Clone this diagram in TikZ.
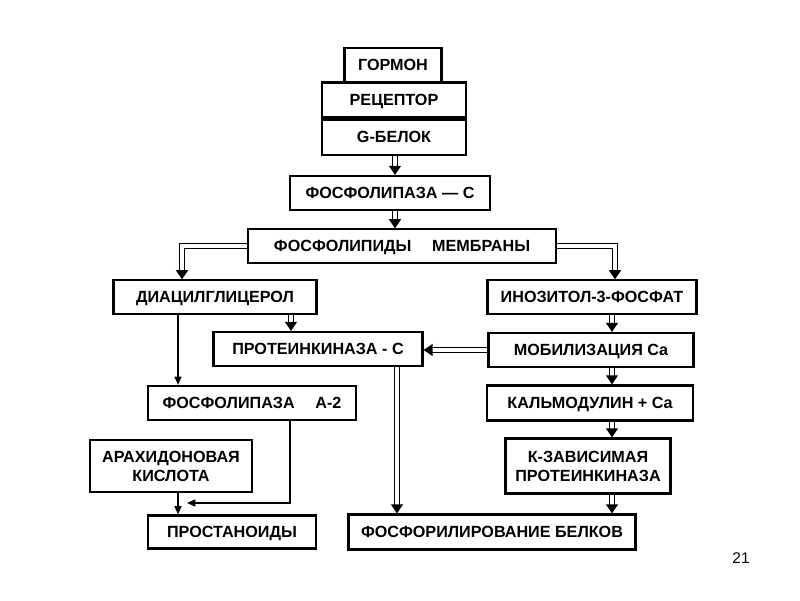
\documentclass[tikz,border=0pt]{standalone}
\usepackage{fontspec}
\setmainfont{Liberation Sans}
\usetikzlibrary{arrows.meta,positioning}

\begin{document}
\begin{tikzpicture}[font=\bfseries\fontsize{11.5}{13.5}\selectfont,
  blok/.style={draw, line width=1.5pt, inner sep=2pt, align=center, minimum height=.85cm},
  riga/.style={blok, text height=8.2pt, text depth=0pt},
  dbl/.style={line width=1pt, double, double distance=2.2pt, -{Triangle[length=6.5pt,width=8.5pt]}},
  sng/.style={line width=1.1pt, -{Triangle[length=6pt,width=5pt]}}]
\useasboundingbox (0,0) rectangle (20,15);

\begin{scope}
% colonne delle frecce
\coordinate (cx) at (9.875,0);
\coordinate (rx) at (15.3,0);
\coordinate (mx) at (9.925,0);
\coordinate (lx) at (4.45,0);

\node[riga, minimum width=2.425cm] (gormon) at (9.825,13.375) {ГОРМОН};
\node[riga, minimum width=3.6cm, minimum height=.875cm] (recept) at (9.85,12.5) {РЕЦЕПТОР};
\node[riga, minimum width=3.6cm, minimum height=.875cm, below=0pt of recept] (gbelok) {G-БЕЛОК};
\node[riga, minimum width=5cm] (fosfc) at (9.75,10.175) {ФОСФОЛИПАЗА — С};
\node[riga, minimum width=7.7cm, minimum height=.83cm] (membr) at (10.05,8.85) {ФОСФОЛИПИДЫ \quad МЕМБРАНЫ};

\node[riga, minimum width=5.075cm, minimum height=.83cm] (diacil) at (5.375,7.575) {ДИАЦИЛГЛИЦЕРОЛ};
\node[riga, minimum width=5.225cm, minimum height=.83cm] (inozit) at (14.8,7.575) {ИНОЗИТОЛ-3-ФОСФАТ};
\node[riga, minimum width=5.225cm] (protkin) at (7.95,6.275) {ПРОТЕИНКИНАЗА - С};
\node[riga, minimum width=5.125cm] (mobil) at (14.775,6.25) {МОБИЛИЗАЦИЯ Ca};
\node[riga, minimum width=5.15cm, minimum height=.875cm] (kalm) at (14.75,4.925) {КАЛЬМОДУЛИН + Ca};
\node[blok, minimum width=4.125cm, minimum height=1.375cm] (kzav) at (14.7,3.35) {К-ЗАВИСИМАЯ\\ПРОТЕИНКИНАЗА};
\node[riga, minimum width=7.175cm, minimum height=.875cm] (fosfor) at (12.3,1.7) {ФОСФОРИЛИРОВАНИЕ БЕЛКОВ};

\node[riga, minimum width=5.2cm] (fosfa) at (6.3,4.925) {ФОСФОЛИПАЗА \quad А-2};
\node[blok, minimum width=4.05cm, minimum height=1.3cm] (arah) at (4.275,3.35) {АРАХИДОНОВАЯ\\КИСЛОТА};
\node[riga, minimum width=4.2cm, minimum height=.825cm] (prost) at (5.8,1.7) {ПРОСТАНОИДЫ};

\draw[dbl] (gbelok.south -| cx) -- (fosfc.north -| cx);
\draw[dbl] (fosfc.south -| cx) -- (membr.north -| cx);
\draw[dbl] (membr.west) -| ([xshift=-.825cm]diacil.north);
\draw[dbl] (membr.east) -| ([xshift=.575cm]inozit.north);
\draw[dbl] ([xshift=1.9cm]diacil.south) -- ([xshift=1.9cm]diacil.south |- protkin.north);
\draw[dbl] (inozit.south -| rx) -- (mobil.north -| rx);
\draw[dbl] (mobil.west) -- (mobil.west -| protkin.east);
\draw[dbl] (mobil.south -| rx) -- (kalm.north -| rx);
\draw[dbl] (kalm.south -| rx) -- (kzav.north -| rx);
\draw[dbl] (kzav.south -| rx) -- (fosfor.north -| rx);
\draw[dbl] (protkin.south -| mx) -- (fosfor.north -| mx);

\draw[sng] (diacil.south -| lx) -- (fosfa.north -| lx);
\draw[sng] (arah.south -| lx) -- (prost.north -| lx);
\coordinate (kink) at (7.25,2.425);
\coordinate (join) at (4.675,2.425);
\draw[sng] (fosfa.south -| kink) -- (kink) -- (join);

\node[font=\fontsize{11}{13}\selectfont] (pag) at (18.525,1.05) {21};
\end{scope}

\end{tikzpicture}
\end{document}
